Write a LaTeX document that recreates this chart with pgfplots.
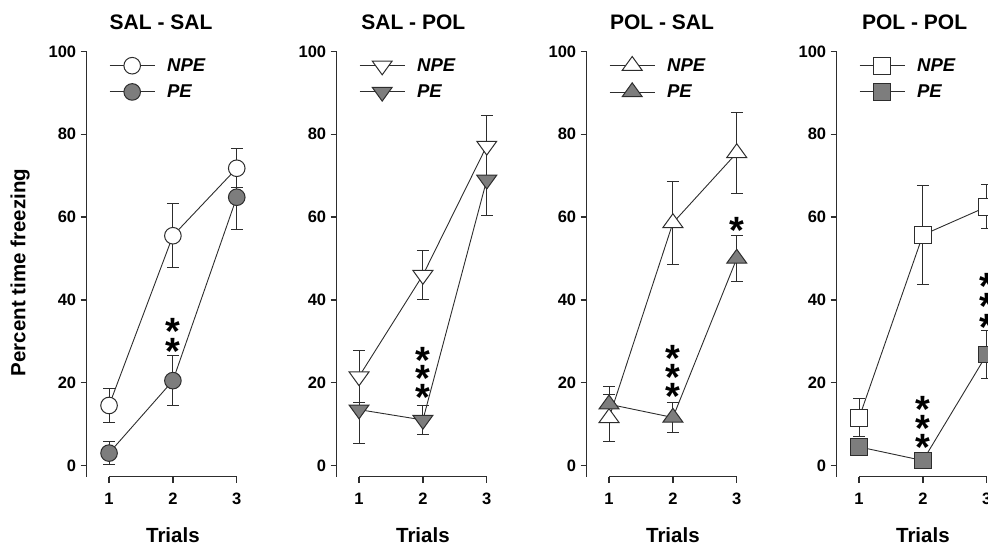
\documentclass[border=0pt]{standalone}
\usepackage{pgfplots}
\pgfplotsset{compat=1.18}
\usepackage{fontspec}
\setmainfont{Liberation Sans}
\definecolor{pegray}{RGB}{125,125,125}
\definecolor{ln}{RGB}{45,45,45}
\newcommand{\tfont}{\fontsize{21}{24}\selectfont\bfseries}
\newcommand{\lfont}{\fontsize{20.5}{24}\selectfont\bfseries}
\pgfplotsset{
  panel/.style={
    scale only axis, width=172.4pt, height=425.2pt,
    xmin=0.65, xmax=3.35, ymin=-2.7, ymax=100,
    anchor=south west,
    axis x line*=bottom, axis y line*=left,
    x axis line style={draw=none},
    y axis line style={-, line width=1.3pt, color=ln},
    xtick={1,2,3}, ytick={0,20,...,100},
    tick align=outside, major tick length=6pt,
    tick style={line width=1.3pt, color=ln},
    /pgf/number format/assume math mode=true,
    ticklabel style={font=\fontsize{16.5}{18}\selectfont\bfseries},
    xticklabel style={yshift=-7pt},
    yticklabel style={xshift=-1pt},
    clip=false,
    legend style={draw=none, fill=none, at={(axis cs:1.0,93.4)}, anchor=west,
      font=\fontsize{18.5}{22}\selectfont\bfseries\itshape,
      row sep=8pt, column sep=10pt, inner sep=0pt},
    legend cell align=left,
    legend image code/.code={\draw[mark repeat=2, mark phase=2] plot coordinates {(0pt,0pt) (22.5pt,0pt) (45pt,0pt)};},
    error bars/y dir=both, error bars/y explicit,
    error bars/error bar style={line width=1pt, color=ln},
    error bars/error mark=-,
    error bars/error mark options={rotate=90, line width=1pt, mark size=6pt, color=ln},
  },
  npe/.style={color=ln, line width=0.9pt, mark options={solid, fill=white, draw=ln, line width=1pt, #1}},
  npe/.default={},
  pe/.style={color=ln, line width=0.9pt, mark options={solid, fill=pegray, draw=ln, line width=1pt, #1}},
  pe/.default={},
  stars/.style={only marks, mark=text, text mark={*}, text mark as node=true,
    text mark style={font=\fontsize{38}{38}\selectfont\bfseries, yshift=-8pt}, forget plot},
}
\begin{document}
\begin{tikzpicture}
\useasboundingbox (0pt,0pt) rectangle (988pt,546pt);
\clip (0pt,0pt) rectangle (988pt,546pt);
% ---------- SAL - SAL
\begin{axis}[panel, at={(86.7pt,69.3pt)}]
\addplot[npe, mark=*, mark size=8.3pt] coordinates {(1,14.5) +- (0,4) (2,55.5) +- (0,7.7) (3,71.8) +- (0,4.7)};
\addlegendentry{NPE}
\addplot[pe, mark=*, mark size=8.3pt] coordinates {(1,3) +- (0,2.7) (2,20.5) +- (0,6) (3,64.8) +- (0,7.7)};
\addlegendentry{PE}
\addplot[stars] coordinates {(2,34.2) (2,29.5)};
\draw[line width=1.3pt, ln] (axis cs:1,-2.7) -- (axis cs:3,-2.7);
\node[font=\tfont] at (axis cs:1.814,106.96) {SAL - SAL};
\node[font=\lfont, rotate=90] at (axis cs:-0.394,46.6) {Percent time freezing};
\node[font=\lfont] at (axis cs:2,-16.8) {Trials};
\end{axis}
% ---------- SAL - POL
\begin{axis}[panel, at={(336.7pt,69.3pt)}]
\addplot[npe={rotate=180, yscale=0.8}, mark=triangle*, mark size=11.5pt] coordinates {(1,21.5) +- (0,6.3) (2,46) +- (0,6) (3,77.2) +- (0,7.4)};
\addlegendentry{NPE}
\addplot[pe={rotate=180, yscale=0.8}, mark=triangle*, mark size=11.5pt] coordinates {(1,13.5) +- (0,8.2) (2,11) +- (0,3.6) (3,69) +- (0,8.7)};
\addlegendentry{PE}
\addplot[stars] coordinates {(2,27.4) (2,22.9) (2,18.3)};
\draw[line width=1.3pt, ln] (axis cs:1,-2.7) -- (axis cs:3,-2.7);
\node[font=\tfont] at (axis cs:1.85,106.96) {SAL - POL};
\node[font=\lfont] at (axis cs:2,-16.8) {Trials};
\end{axis}
% ---------- POL - SAL
\begin{axis}[panel, at={(586.7pt,69.3pt)}]
\addplot[npe={yscale=0.8}, mark=triangle*, mark size=11.5pt] coordinates {(1,11.5) +- (0,5.6) (2,58.6) +- (0,10) (3,75.5) +- (0,9.8)};
\addlegendentry{NPE}
\addplot[pe={yscale=0.8}, mark=triangle*, mark size=11.5pt] coordinates {(1,14.8) +- (0,4.2) (2,11.6) +- (0,3.6) (3,50) +- (0,5.5)};
\addlegendentry{PE}
\addplot[stars] coordinates {(2,27.8) (2,23.2) (2,18.6) (3,58.6)};
\draw[line width=1.3pt, ln] (axis cs:1,-2.7) -- (axis cs:3,-2.7);
\node[font=\tfont] at (axis cs:1.83,106.96) {POL - SAL};
\node[font=\lfont] at (axis cs:2,-16.8) {Trials};
\end{axis}
% ---------- POL - POL
\begin{axis}[panel, at={(836.7pt,69.3pt)}]
\addplot[npe, mark=square*, mark size=8.3pt] coordinates {(1,11.5) +- (0,4.6) (2,55.7) +- (0,12) (3,62.5) +- (0,5.3)};
\addlegendentry{NPE}
\addplot[pe, mark=square*, mark size=8.3pt] coordinates {(1,4.5) +- (0,2) (2,1.2) +- (0,1) (3,26.8) +- (0,5.8)};
\addlegendentry{PE}
\addplot[stars] coordinates {(2,15.6) (2,11.0) (2,6.4) (3,45.1) (3,40.3) (3,35.4)};
\draw[line width=1.3pt, ln] (axis cs:1,-2.7) -- (axis cs:3,-2.7);
\node[font=\tfont] at (axis cs:1.87,106.96) {POL - POL};
\node[font=\lfont] at (axis cs:2,-16.8) {Trials};
\end{axis}
\end{tikzpicture}
\end{document}
